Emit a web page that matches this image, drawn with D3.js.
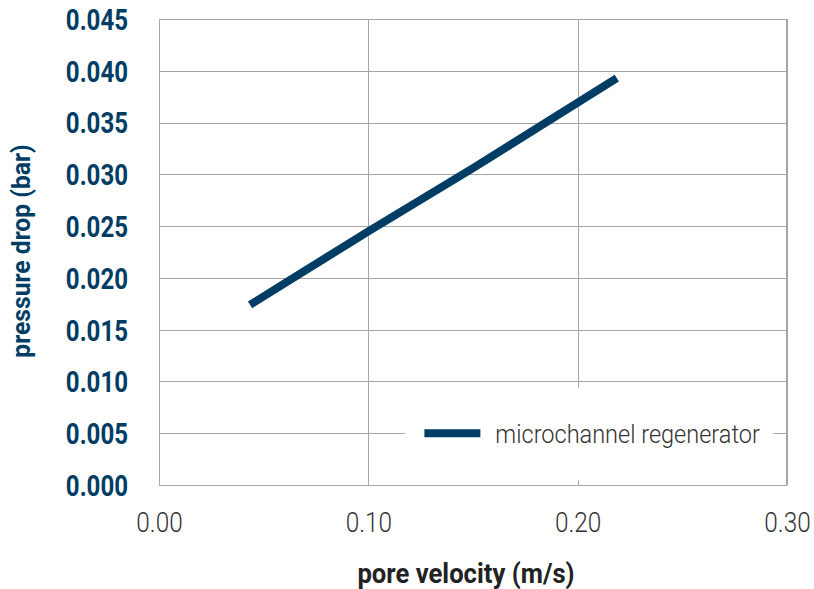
<!DOCTYPE html>
<html>
<head>
<meta charset="utf-8">
<script src="https://cdn.jsdelivr.net/npm/d3@7"></script>
<style>
body { margin: 0; background: #fff; }
svg { display: block; font-family: Roboto, "Liberation Sans", sans-serif; }
</style>
</head>
<body>
<div id="chart"></div>
<script>
// pore velocity (m/s) vs pressure drop (bar)
const velocity = [0.0435, 0.10, 0.15, 0.2187];
const pressure = [0.0174, 0.0245, 0.0306, 0.0393];
const xTicks = [0, 0.1, 0.2, 0.3];
const yTicks = [0, 0.005, 0.01, 0.015, 0.02, 0.025, 0.03, 0.035, 0.04, 0.045];
const seriesName = "microchannel regenerator";

const W = 814, H = 589;
const margin = { top: 19, right: 27, bottom: 104, left: 159 };
const width = W - margin.left - margin.right;
const height = H - margin.top - margin.bottom;
const navy = "#003d64";

// squeeze text horizontally keeping its anchor point (original font is condensed)
function condense(sel, k) {
  sel.each(function () {
    const t = d3.select(this);
    const x0 = +t.attr("x") || 0;
    t.attr("x", x0 / k).attr("transform", `scale(${k},1)`);
  });
}

const svg = d3.select("#chart").append("svg")
  .attr("width", W).attr("height", H);
const g = svg.append("g").attr("transform", `translate(${margin.left},${margin.top})`);

const x = d3.scaleLinear().domain([0, 0.3]).range([0, width]);
const y = d3.scaleLinear().domain([0, 0.045]).range([height, 0]);

// grid
g.append("g").selectAll("line").data(yTicks).enter().append("line")
  .attr("x1", 0).attr("x2", width)
  .attr("y1", d => Math.round(y(d)) + 0.5).attr("y2", d => Math.round(y(d)) + 0.5)
  .attr("stroke", "#a6a6a6").attr("stroke-width", 1);
g.append("g").selectAll("line").data(xTicks).enter().append("line")
  .attr("y1", 0).attr("y2", height)
  .attr("x1", d => Math.round(x(d)) + 0.5).attr("x2", d => Math.round(x(d)) + 0.5)
  .attr("stroke", "#a6a6a6").attr("stroke-width", 1);

// axes labels
const yAxis = g.append("g").call(d3.axisLeft(y).tickValues(yTicks).tickFormat(d3.format(".3f")).tickSize(0).tickPadding(31));
yAxis.select(".domain").remove();
yAxis.selectAll("text").attr("fill", navy).attr("font-size", 29).attr("font-weight", "bold")
  .attr("dy", "0.36em").attr("font-family", "Roboto");
condense(yAxis.selectAll("text"), 0.83);

const xAxis = g.append("g").attr("transform", `translate(0,${height})`)
  .call(d3.axisBottom(x).tickValues(xTicks).tickFormat(d3.format(".2f")).tickSize(0).tickPadding(0));
xAxis.select(".domain").remove();
xAxis.selectAll("text").attr("fill", "#333").attr("font-size", 28).attr("y", 37).attr("dy", "0.36em")
  .attr("font-family", "Roboto").attr("font-weight", 300);
condense(xAxis.selectAll("text"), 0.87);

// legend box (covers grid)
const legX = x(0.1177), legW = 368, legY = y(0.0094), legH = 93;
g.append("rect").attr("x", legX).attr("y", legY).attr("width", legW).attr("height", legH).attr("fill", "#fff");

// line
const pts = velocity.map((v, i) => [v, pressure[i]]);
g.append("path").datum(pts)
  .attr("d", d3.line().x(d => x(d[0])).y(d => y(d[1])))
  .attr("fill", "none").attr("stroke", navy).attr("stroke-width", 8);

// legend
const ly = y(0.005);
g.append("line").attr("x1", legX + 19).attr("x2", legX + 75).attr("y1", ly).attr("y2", ly)
  .attr("stroke", navy).attr("stroke-width", 8);
const legText = g.append("text").attr("x", legX + 90).attr("y", ly).attr("dy", "0.36em")
  .attr("font-size", 26).attr("font-weight", 300).attr("fill", "#333").text(seriesName);
condense(legText, 0.905);

// plot border
g.append("rect").attr("x", 0.5).attr("y", 0.5).attr("width", width - 1).attr("height", height)
  .attr("fill", "none").attr("stroke", "#a6a6a6");

// titles
const xt = svg.append("text").attr("x", 466).attr("y", 573).attr("dy", "0.36em")
  .attr("text-anchor", "middle").attr("font-size", 27).attr("font-weight", "bold").attr("fill", "#222")
  .text("pore velocity (m/s)");
condense(xt, 0.95);
const yt = svg.append("g").attr("transform", "translate(21,251) rotate(-90)")
  .append("text").attr("dy", "0.36em")
  .attr("text-anchor", "middle").attr("font-size", 26).attr("font-weight", "bold").attr("fill", navy)
  .text("pressure drop (bar)");
condense(yt, 0.95);
</script>
</body>
</html>
